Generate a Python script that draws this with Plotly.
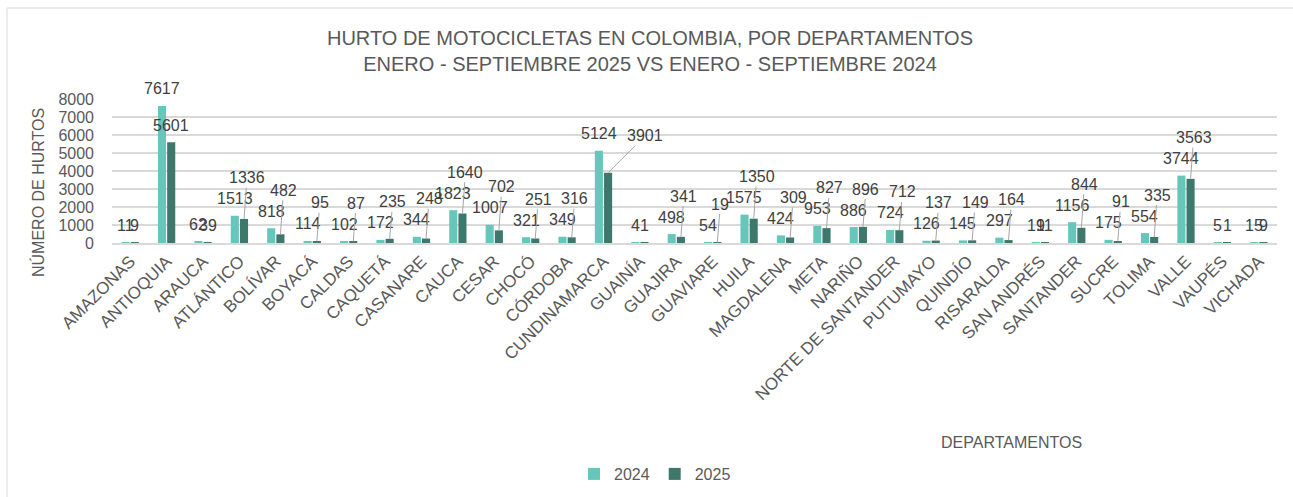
import plotly.graph_objects as go

# ---------------- data ----------------
departamentos = [
    "AMAZONAS", "ANTIOQUIA", "ARAUCA", "ATLÁNTICO", "BOLÍVAR", "BOYACÁ", "CALDAS",
    "CAQUETÁ", "CASANARE", "CAUCA", "CESAR", "CHOCÓ", "CÓRDOBA", "CUNDINAMARCA",
    "GUAINÍA", "GUAJIRA", "GUAVIARE", "HUILA", "MAGDALENA", "META", "NARIÑO",
    "NORTE DE SANTANDER", "PUTUMAYO", "QUINDÍO", "RISARALDA", "SAN ANDRÉS",
    "SANTANDER", "SUCRE", "TOLIMA", "VALLE", "VAUPÉS", "VICHADA",
]
hurtos_2024 = [11, 7617, 62, 1513, 818, 114, 102, 172, 344, 1823, 1007, 321, 349, 5124,
               4, 498, 54, 1575, 424, 953, 886, 724, 126, 145, 297, 19, 1156, 175, 554,
               3744, 5, 15]
hurtos_2025 = [9, 5601, 39, 1336, 482, 95, 87, 235, 248, 1640, 702, 251, 316, 3901,
               1, 341, 19, 1350, 309, 827, 896, 712, 137, 149, 164, 11, 844, 91, 335,
               3563, 1, 9]
series_names = ["2024", "2025"]
y_ticks = [0, 1000, 2000, 3000, 4000, 5000, 6000, 7000, 8000]

title_text = ("HURTO DE MOTOCICLETAS EN COLOMBIA, POR DEPARTAMENTOS<br>"
              "ENERO - SEPTIEMBRE 2025 VS ENERO - SEPTIEMBRE 2024")
y_title = "NÚMERO DE HURTOS"
x_title = "DEPARTAMENTOS"

# ---------------- style ----------------
W, H = 1293, 497
PL, PR, PT, PB = 112, 1277, 99, 243          # plot area in pixels
Y_MAX = 8000
COL_2024 = "#66C6BA"
COL_2025 = "#3E786C"
GRID = "#D9D9D9"
TXT = "#595959"
LBL = "#404040"
FONT = "Liberation Sans Narrow, Arial Narrow, Liberation Sans, Arial, sans-serif"
SIDE_BY_SIDE = {"AMAZONAS", "ARAUCA", "GUAINÍA", "SAN ANDRÉS", "VAUPÉS", "VICHADA"}
RIGHT_SIDE = {"CUNDINAMARCA"}

pw = PR - PL
ph = PB - PT
k = ph / Y_MAX                                # pixels per unit
cat_w = pw / len(departamentos)
bar_off = cat_w * 0.127                       # bar centre offset from category centre


def px_x(px):
    return (px - PL) / pw


def px_y(py):
    return (PB - py) / ph


fig = go.Figure()
for name, vals, col in [(series_names[0], hurtos_2024, COL_2024),
                        (series_names[1], hurtos_2025, COL_2025)]:
    fig.add_trace(go.Bar(x=departamentos, y=vals, name=name, marker_color=col,
                         marker_line_width=0))

annotations = []
LABEL_ABOVE = 17
LABEL_GAP = 21
LFONT = dict(size=16, color=LBL, family=FONT)
LEADER = dict(showarrow=True, arrowhead=0, arrowwidth=1, arrowcolor="#A6A6A6", standoff=0)
for cat, v24, v25 in zip(departamentos, hurtos_2024, hurtos_2025):
    h24 = v24 * k
    h25 = v25 * k
    c24 = h24 + LABEL_ABOVE
    c25 = h25 + LABEL_ABOVE
    annotations.append(dict(x=cat, y=v24, xref="x", yref="y", text=str(v24),
                            showarrow=False, xshift=-bar_off, yshift=LABEL_ABOVE,
                            yanchor="middle", font=LFONT))
    if cat in RIGHT_SIDE:
        annotations.append(dict(x=cat, y=v25, xref="x", yref="y", text=str(v25),
                                ax=37, ay=-(c24 - 2 - h25), xshift=bar_off,
                                font=LFONT, **LEADER))
        continue
    if cat not in SIDE_BY_SIDE and abs(c25 - c24) < LABEL_GAP:
        c25 = c24 + LABEL_GAP
    if c25 - h25 > 26:
        annotations.append(dict(x=cat, y=v25, xref="x", yref="y", text=str(v25),
                                ax=3, ay=-(c25 - h25), xshift=bar_off,
                                font=LFONT, **LEADER))
    else:
        annotations.append(dict(x=cat, y=v25, xref="x", yref="y", text=str(v25),
                                showarrow=False, xshift=bar_off, yshift=c25 - h25,
                                yanchor="middle", font=LFONT))

annotations.append(dict(x=px_x(38), y=px_y(193), xref="paper", yref="paper",
                        xanchor="center", yanchor="middle",
                        text=y_title, textangle=-90, showarrow=False,
                        font=dict(size=16, color=TXT, family=FONT)))
annotations.append(dict(x=px_x(1011), y=px_y(442), xref="paper", yref="paper",
                        xanchor="center", yanchor="middle",
                        text=x_title, showarrow=False,
                        font=dict(size=16, color=TXT, family=FONT)))

fig.update_layout(
    width=W, height=H,
    margin=dict(l=PL, r=W - PR, t=PT, b=H - PB, autoexpand=False),
    paper_bgcolor="white", plot_bgcolor="white",
    barmode="group", bargap=0.495, bargroupgap=0.12,
    title=dict(text=title_text, x=650 / W, y=1 - 45 / H, xanchor="center",
               yanchor="middle", xref="container", yref="container",
               font=dict(size=20, color=TXT, family=FONT)),
    xaxis=dict(showgrid=False, showline=True, linecolor=GRID, linewidth=1.5,
               tickangle=-45, ticks="", tickfont=dict(size=17, color=TXT, family=FONT)),
    yaxis=dict(range=[0, Y_MAX], tickvals=y_ticks, showgrid=True, gridcolor=GRID,
               gridwidth=1.5, zeroline=False, ticks="", ticklabelstandoff=17,
               tickfont=dict(size=16, color=TXT, family=FONT)),
    legend=dict(orientation="h", x=px_x(655), y=px_y(474), xanchor="center",
                yanchor="middle", font=dict(size=16, color=TXT, family=FONT),
                itemwidth=30, traceorder="normal"),
    annotations=annotations,
    shapes=[dict(type="rect", xref="paper", yref="paper",
                 x0=px_x(7), x1=px_x(1310), y0=px_y(8), y1=px_y(520),
                 line=dict(color=GRID, width=1), fillcolor="rgba(0,0,0,0)", layer="below")],
    showlegend=True,
)

fig.write_html("out.html", config={"displayModeBar": False},
               post_script="document.body.style.margin='0';document.body.style.padding='0';")
